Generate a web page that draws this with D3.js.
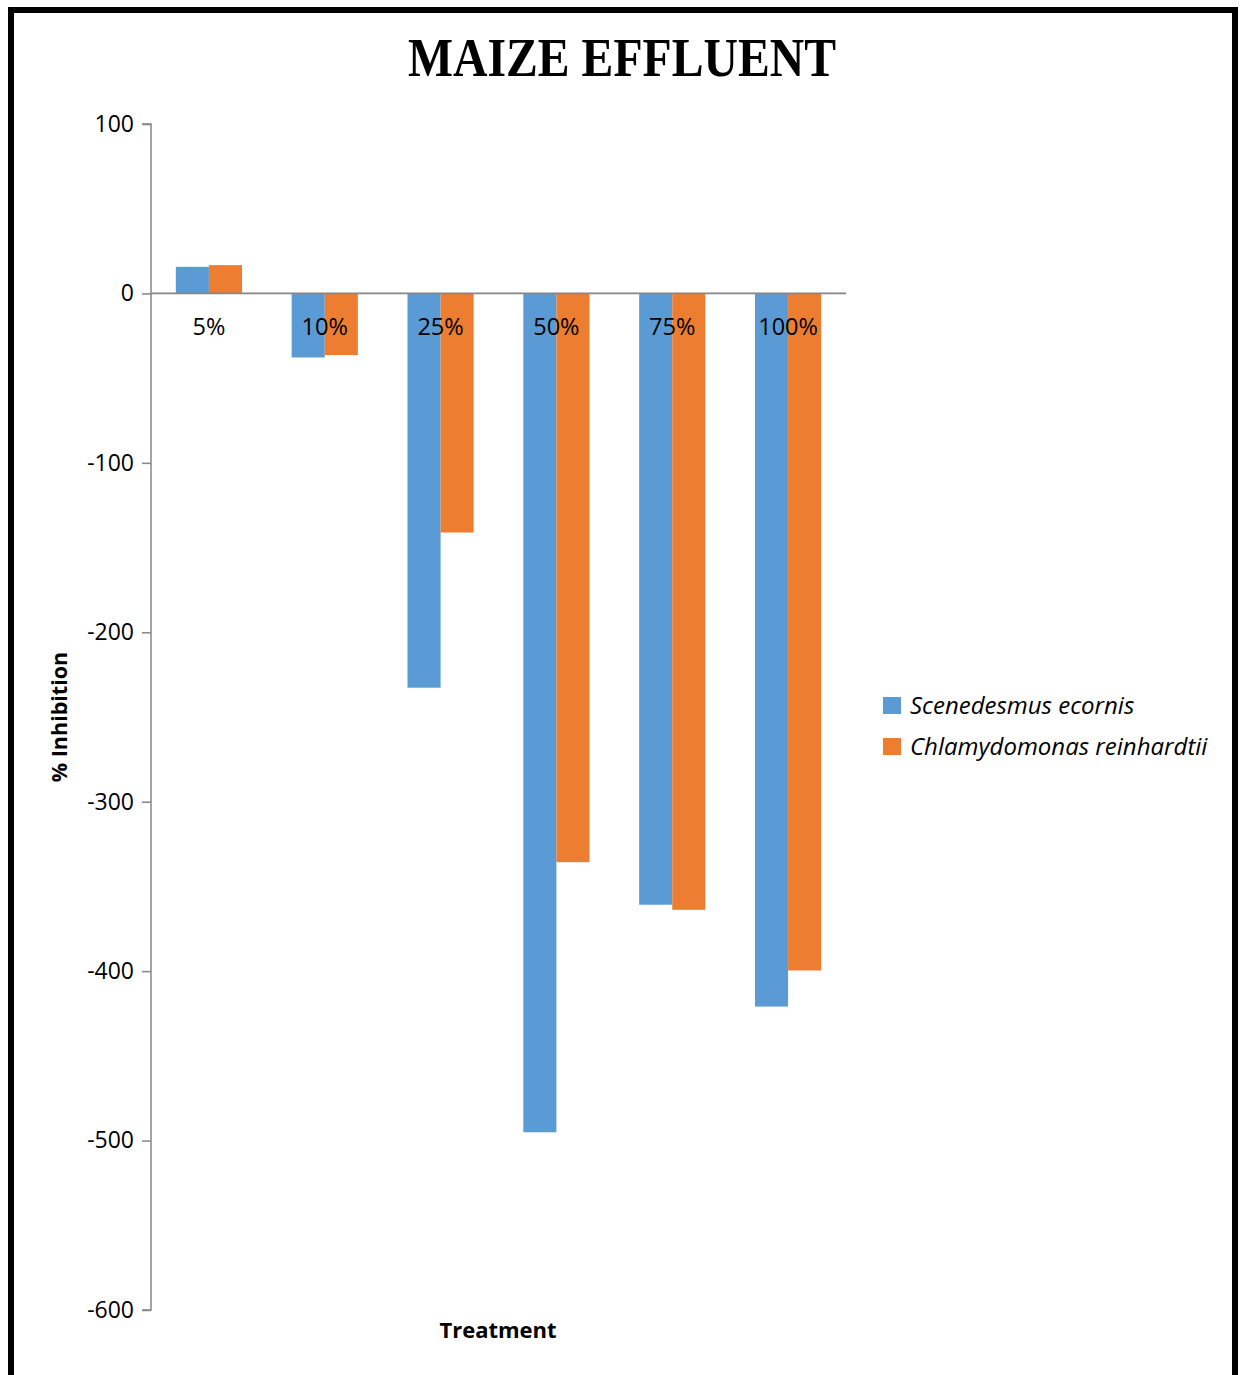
<!DOCTYPE html>
<html>
<head>
<meta charset="utf-8">
<script src="https://cdn.jsdelivr.net/npm/d3@7"></script>
<style>
  html, body { margin: 0; padding: 0; background: #fff; }
  svg { display: block; }
</style>
</head>
<body>
<script>
// Treatment concentrations and % inhibition for each alga
const treatments = ["5%", "10%", "25%", "50%", "75%", "100%"];
const seriesNames = ["Scenedesmus ecornis", "Chlamydomonas reinhardtii"];
const scenedesmus = [15.7, -37.8, -232.7, -495.1, -360.8, -420.9];
const chlamydomonas = [16.7, -36.4, -141.1, -335.7, -363.8, -399.6];
const yTicks = [100, 0, -100, -200, -300, -400, -500, -600];
const seriesColors = ["#5B9BD5", "#ED7D31"];

const FONT = "'Open Sans', Lato, sans-serif";
const W = 1241, H = 1375;
const svg = d3.select("body").append("svg").attr("width", W).attr("height", H);

// Outer frame
svg.append("rect")
  .attr("x", 11).attr("y", 10)
  .attr("width", 1224).attr("height", H + 20)
  .attr("fill", "none").attr("stroke", "#000").attr("stroke-width", 6);

const plot = { left: 151, right: 846, top: 124, bottom: 1310 };

// Category bands; 150% gap width means each band holds 2 bars + 1.5 bar widths of gap
const x0 = d3.scaleBand().domain(treatments).range([plot.left, plot.right]).padding(0);
const barW = x0.bandwidth() / 3.5;
const xCenter = d => x0(d) + x0.bandwidth() / 2;

const y = d3.scaleLinear().domain([-600, 100]).range([plot.bottom, plot.top]);

const rows = treatments.map((t, i) => ({ t, vals: [scenedesmus[i], chlamydomonas[i]] }));

// Bars
rows.forEach(r => {
  r.vals.forEach((v, k) => {
    svg.append("rect")
      .attr("x", xCenter(r.t) - barW + k * barW)
      .attr("width", barW)
      .attr("y", y(Math.max(0, v)))
      .attr("height", Math.abs(y(v) - y(0)))
      .attr("fill", seriesColors[k]);
  });
});

// Y axis
const yAxis = d3.axisLeft(y).tickValues(yTicks).tickSize(9).tickPadding(8)
  .tickFormat(d => String(d));
const gy = svg.append("g").attr("transform", `translate(${plot.left},0)`).call(yAxis);
gy.select(".domain").attr("stroke", "#868686").attr("stroke-width", 1.5)
  .attr("d", `M-9,${plot.top}H0V${plot.bottom}H-9`);
gy.selectAll(".tick line").attr("stroke", "#868686").attr("stroke-width", 1.5);
gy.selectAll(".tick text")
  .attr("font-family", FONT)
  .attr("font-size", 23).attr("fill", "#000");

// Zero baseline with category labels
svg.append("line")
  .attr("x1", plot.left).attr("x2", plot.right)
  .attr("y1", y(0)).attr("y2", y(0))
  .attr("stroke", "#868686").attr("stroke-width", 1.8);

svg.append("g").selectAll("text").data(treatments).join("text")
  .attr("x", d => xCenter(d)).attr("y", y(0) + 42)
  .attr("text-anchor", "middle")
  .attr("font-family", FONT)
  .attr("font-size", 23.5).attr("fill", "#000")
  .text(d => d);

// Title
svg.append("text")
  .attr("x", 622).attr("y", 76)
  .attr("text-anchor", "middle")
  .attr("font-family", "'Liberation Serif', 'Times New Roman', serif")
  .attr("font-weight", "bold").attr("font-size", 55)
  .attr("textLength", 428).attr("lengthAdjust", "spacingAndGlyphs")
  .text("MAIZE EFFLUENT");

// Axis titles
svg.append("text")
  .attr("x", 498).attr("y", 1338)
  .attr("text-anchor", "middle")
  .attr("font-family", FONT)
  .attr("font-weight", "bold").attr("font-size", 22)
  .text("Treatment");

svg.append("text")
  .attr("transform", "translate(67,717) rotate(-90)")
  .attr("text-anchor", "middle")
  .attr("font-family", FONT)
  .attr("font-weight", "bold").attr("font-size", 21.5)
  .text("% Inhibition");

// Legend
const legend = svg.append("g").attr("transform", "translate(883,697)");
seriesNames.forEach((name, k) => {
  const g = legend.append("g").attr("transform", `translate(0,${k * 41})`);
  g.append("rect").attr("width", 18).attr("height", 17).attr("fill", seriesColors[k]);
  g.append("text").attr("x", 27).attr("y", 17)
    .attr("font-family", FONT)
    .attr("font-style", "italic").attr("font-size", 24)
    .text(name);
});
</script>
</body>
</html>
